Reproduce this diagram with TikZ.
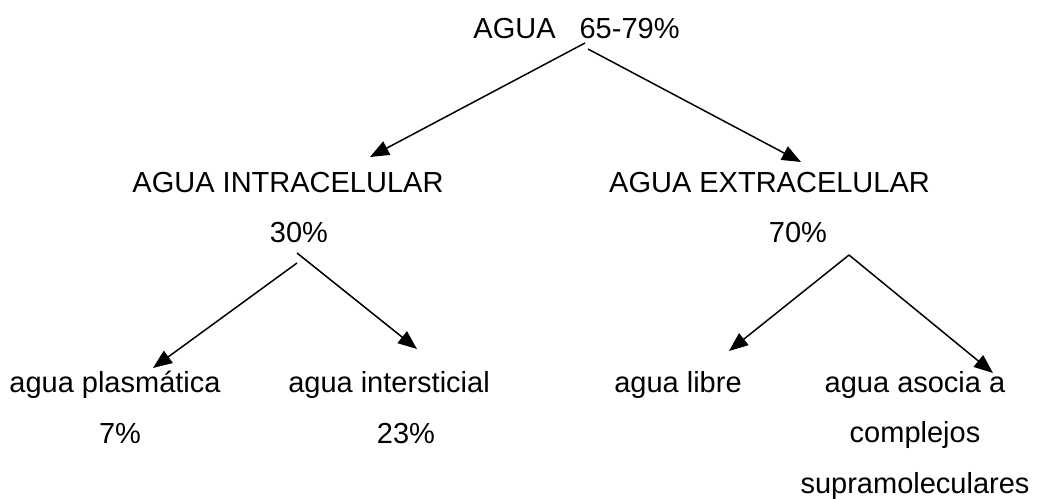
\documentclass[tikz,border=0pt]{standalone}
\usepackage{fontspec}
\setmainfont{Liberation Sans}
\usepackage{tikz}
\usetikzlibrary{arrows.meta}

\begin{document}
\begin{tikzpicture}[x=1pt,y=-1pt,
    txt/.style={inner sep=0pt,anchor=base,font=\fontsize{29}{50.5}\selectfont},
    arr/.style={line width=1.5pt,-{Triangle[length=19pt,width=15pt]}}]

  \useasboundingbox (0,0) rectangle (1043,498);

  % Define nodes
  \node[txt] (agua) at (576.5,38) {AGUA\hspace{24pt}65-79\%}; %
  \node[txt] (intra) at (288,192) {AGUA INTRACELULAR}; %
  \node[txt] (extra) at (769.5,192) {AGUA EXTRACELULAR}; %
  \node[txt] (intrapc) at ([shift={(11,50)}]intra.base) {30\%};
  \node[txt] (extrapc) at ([shift={(28.5,50)}]extra.base) {70\%};

  \node[txt] (plasma) at (115,392) {agua plasmática}; %
  \node[txt] (inter) at (389,392) {agua intersticial}; %
  \node[txt] (libre) at (678,392) {agua libre}; %
  % base of a multi-line node is its last line
  \node[txt,align=center] (asoc) at (915,493) {agua asocia a\\complejos\\supramoleculares};
  \node[txt] (plasmapc) at ([shift={(5,51)}]plasma.base) {7\%};
  \node[txt] (interpc) at ([shift={(17,51)}]inter.base) {23\%};

  % Arrows
  \draw[arr] ([shift={(8.5,5)}]agua.base) -- ([shift={(82,-35)}]intra.base);
  \draw[arr] ([shift={(11.5,11)}]agua.base) -- ([shift={(31.5,-30)}]extra.base);
  \draw[arr] ([shift={(-2,21)}]intrapc.base) -- ([shift={(38,-24)}]plasma.base);
  \draw[arr] ([shift={(-2,11)}]intrapc.base) -- ([shift={(28,-43)}]inter.base);
  \draw[arr] ([shift={(51,13)}]extrapc.base) -- ([shift={(51,-41)}]libre.base);
  \draw[arr] ([shift={(51,13)}]extrapc.base) -- ([shift={(78,-120)}]asoc.base);

\end{tikzpicture}
\end{document}
